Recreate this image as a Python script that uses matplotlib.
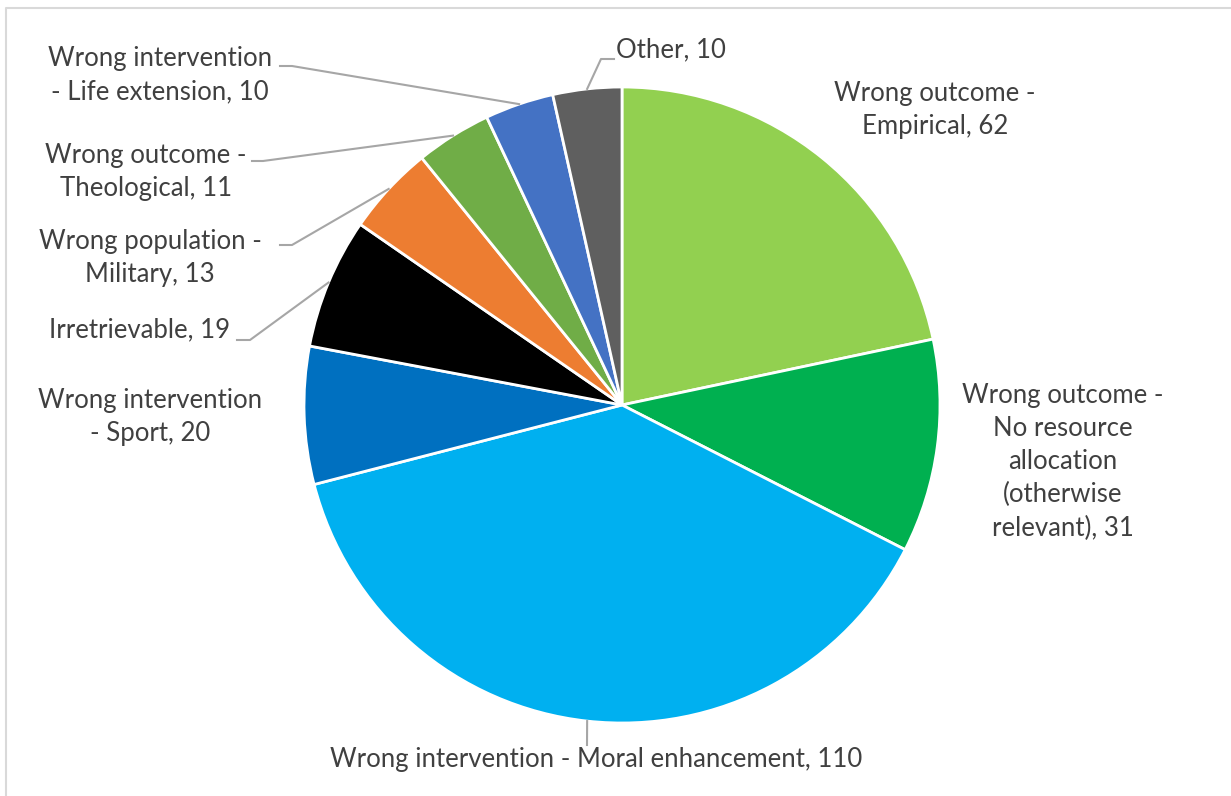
import numpy as np
import matplotlib.pyplot as plt

W, H = 1231, 796

labels = ['Wrong outcome -\nEmpirical, 62',
          'Wrong outcome -\nNo resource\nallocation\n(otherwise\nrelevant), 31',
          'Wrong intervention - Moral enhancement, 110',
          'Wrong intervention\n- Sport, 20',
          'Irretrievable, 19',
          'Wrong population -\nMilitary, 13',
          'Wrong outcome -\nTheological, 11',
          'Wrong intervention\n- Life extension, 10',
          'Other, 10']
values = [62, 31, 110, 20, 19, 13, 11, 10, 10]
colors = ['#92D050', '#00B050', '#00B0F0', '#0070C0', '#000000',
          '#ED7D31', '#70AD47', '#4472C4', '#5F5F5F']

# label layout in pixel coords (x, y from top), and leader elbow (or None)
label_pos = [(935, 110), (1063, 462), (596, 759), (150, 417), (140, 330),
             (150, 258), (146, 172), (160, 75), (671, 50)]
elbows = [None, None, [(587, 745)], None,
          [(237, 340), (250, 340)],
          [(280, 245), (292, 245)],
          [(252, 161), (263, 161)],
          [(280, 66), (292, 66)],
          [(614, 59), (601, 59)]]

cx, cy, r = 622, 405, 318

def py(y):
    return H - y

fig = plt.figure(figsize=(W / 100, H / 100), dpi=100)
ax = fig.add_axes([0, 0, 1, 1])

wedges, _ = ax.pie(values, colors=colors, startangle=90, counterclock=False,
                   center=(cx, py(cy)), radius=r, frame=True,
                   wedgeprops=dict(edgecolor='white', linewidth=2))
ax.set_xlim(0, W)
ax.set_ylim(0, H)
ax.set_aspect('equal')
ax.axis('off')

txt_color = '#404040'
for i, (lab, (lx, ly)) in enumerate(zip(labels, label_pos)):
    ax.text(lx, py(ly), lab, ha='center', va='center', fontsize=18.5,
            family='Lato', color=txt_color, linespacing=1.4)
    if elbows[i] is not None:
        # leader runs from the label elbow to the middle of the wedge edge
        w = wedges[i]
        mid = np.deg2rad((w.theta1 + w.theta2) / 2)
        ex = cx + r * np.cos(mid)
        ey = py(cy) + r * np.sin(mid)
        xs = [p[0] for p in elbows[i]] + [ex]
        ys = [py(p[1]) for p in elbows[i]] + [ey]
        ax.plot(xs, ys, color='#A6A6A6', lw=1.5)

# chart frame
ax.plot([6, 6, W], [0, py(8), py(8)], color='#D9D9D9', lw=1.5)

fig.savefig('out.png', dpi=100, facecolor='white')
